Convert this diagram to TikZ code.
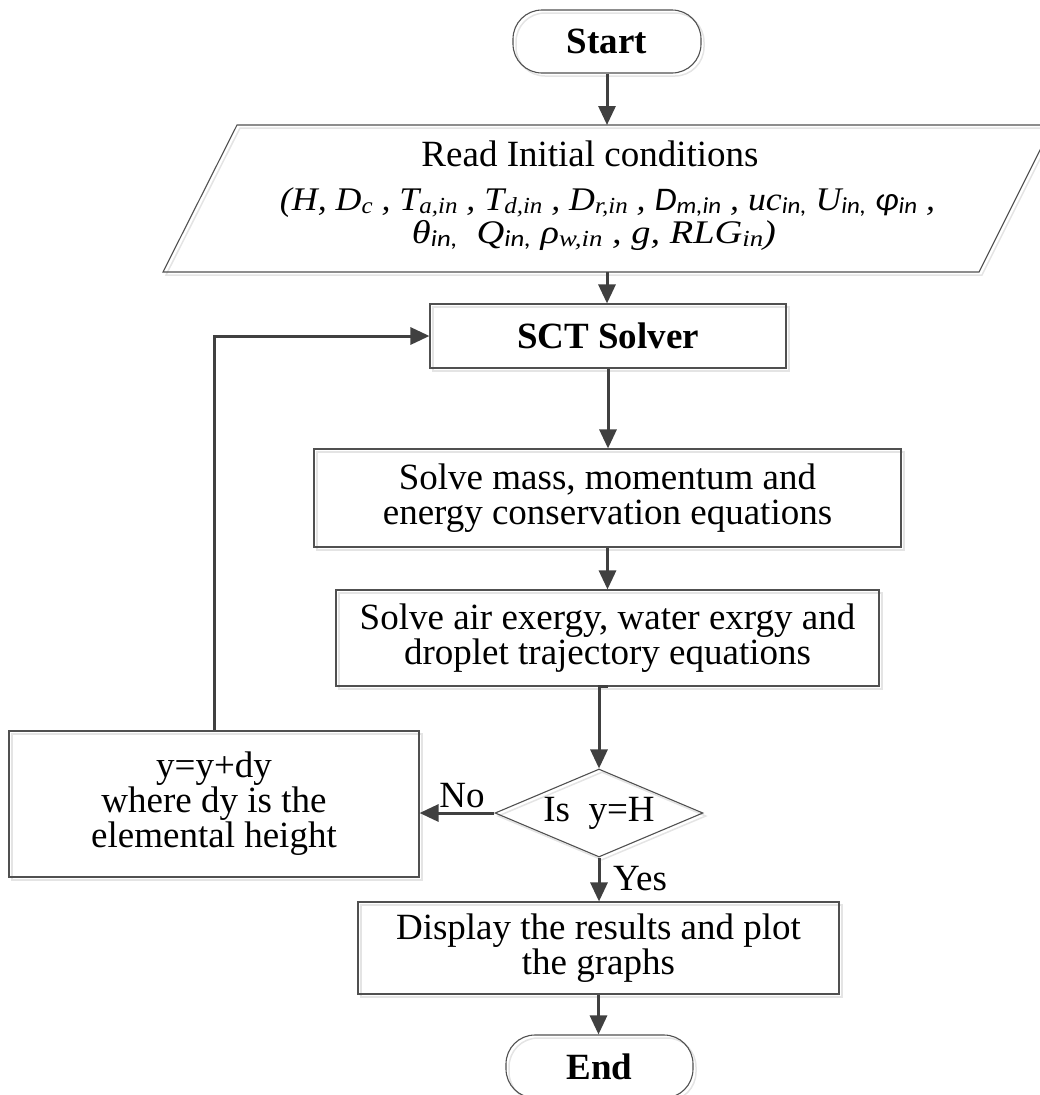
\documentclass[tikz,border=0pt]{standalone}
\usepackage{fontspec}
\usepackage{graphicx}
\setmainfont{Liberation Serif}
\newfontfamily\carl{Carlito}
\usetikzlibrary{arrows.meta,shapes.geometric,shadows}
\definecolor{arrc}{HTML}{404040}
\definecolor{boxc}{HTML}{505050}
\definecolor{shadc}{HTML}{E4E4E4}
\newcommand\fsz{\fontsize{37}{35}\selectfont}
\newcommand\sbs[1]{\raisebox{-3pt}{\fontsize{23}{23}\selectfont #1}}
\tikzset{
  myshadow/.style={drop shadow={shadow xshift=3pt,shadow yshift=-3pt,fill=none,draw=shadc,opacity=1,line width=1.5pt}},
  box/.style={draw=boxc, line width=1.1pt, inner sep=0pt, align=center, font=\fsz, myshadow},
  term/.style={box, rounded corners=29pt, font=\fsz\bfseries},
  decision/.style={box, diamond, aspect=2.36, minimum width=208pt, minimum height=88pt},
  conn/.style={draw=arrc, line width=3pt, -{Triangle[length=19pt,width=17pt]}},
  lbl/.style={font=\fsz, inner sep=0pt, anchor=base},
  mathline/.style={font=\fontsize{33}{33}\selectfont\itshape, inner sep=0pt, anchor=base}
}
\begin{document}
\begin{tikzpicture}[x=1pt,y=-1pt]
\useasboundingbox (0,0) rectangle (1040,1095);
\clip (0,0) rectangle (1040,1095);

% terminals and boxes
\node[term, minimum width=188pt, minimum height=63pt] (start) at (607,41.5) {Start};

% parallelogram (input)
\draw[draw=shadc, line width=1.5pt] (240,128) -- (1055.5,128) -- (982,275) -- (166,275) -- cycle;
\draw[draw=boxc, line width=1.1pt] (237,125) -- (1052.5,125) -- (979,272) -- (163,272) -- cycle;
\coordinate (readtop) at (607,125);
\coordinate (readbot) at (607,272);
\node[lbl, font=\fontsize{37}{37}\selectfont] (rt1) at (590,166) {Read Initial conditions};
\node[mathline] (rt2) at (607.5,210) {\resizebox{655pt}{\height}{(H, D\sbs{c} , T\sbs{a,in} , T\sbs{d,in} , D\sbs{r,in} , {\carl D\sbs{m,in}} , uc\sbs{\carl in,} U\sbs{\carl in,} {\carl φ\sbs{in}} ,}};
\node[mathline] (rt3) at (594,243) {\resizebox{364pt}{\height}{θ\sbs{\carl in,}\ \ Q\sbs{\carl in,} ρ\sbs{w,in} , g, RLG\sbs{in})}};

\node[box, font=\fsz\bfseries, minimum width=356pt, minimum height=64pt] (sct) at (608,336) {SCT Solver};
\node[box, minimum width=587pt, minimum height=98pt] (mass) at (607.5,498) {Solve mass, momentum and\\energy conservation equations};
\node[box, minimum width=543pt, minimum height=96pt] (air) at (607.5,638) {Solve air exergy, water exrgy and\\droplet trajectory equations};
\node[decision] (dec) at (599,813) {Is\ \ y=H};
\node[box, minimum width=410pt, minimum height=146pt] (upd) at (214,804) {y=y+dy\\where dy is the\\elemental height};
\node[box, minimum width=481pt, minimum height=92pt] (disp) at (598.5,948) {Display the results and plot\\the graphs};
\node[term, minimum width=187pt, minimum height=63pt] (end) at (599.5,1066.5) {End};

% connectors
\draw[conn] (start.south) -- (readtop);
\draw[conn] (readbot) -- (readbot |- sct.north);
\draw[conn] (sct.south) -- (sct.south |- mass.north);
\draw[conn] (mass.south) -- (mass.south |- air.north);
\draw[conn] (air.south) -| (dec.north);
\draw[conn] (dec.west) -- (dec.west -| upd.east);
\draw[conn] (dec.south) -- (dec.south |- disp.north);
\draw[conn] (disp.south) -- (disp.south |- end.north);
\draw[conn] (upd.north) |- (sct.west);

% labels
\node[lbl] (no) at (462,807) {No};
\node[lbl] (yes) at (640,890) {Yes};
\end{tikzpicture}
\end{document}
